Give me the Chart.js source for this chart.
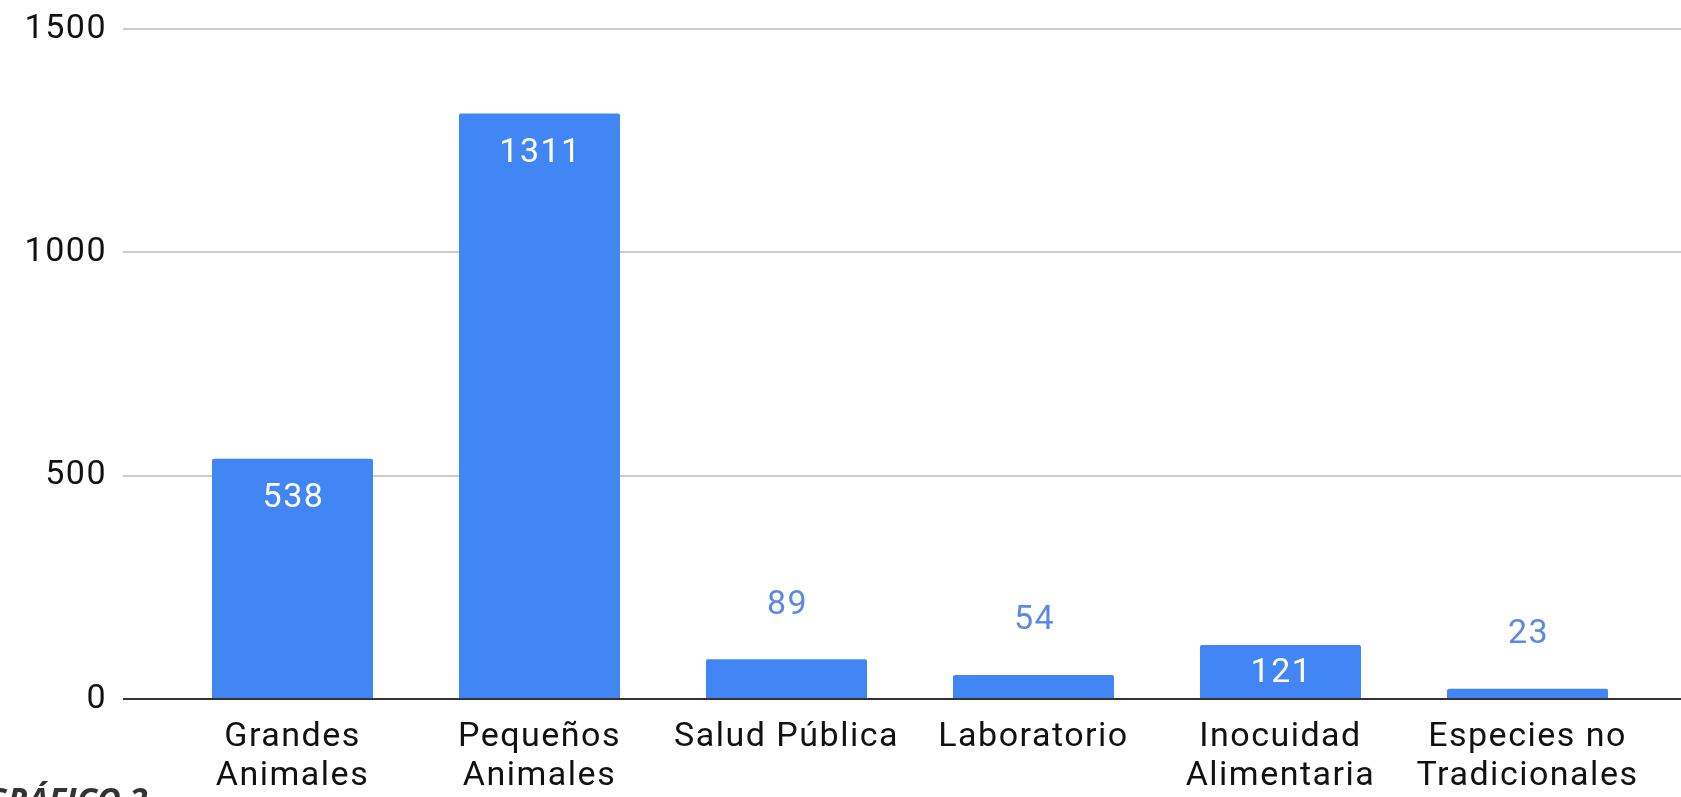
<!DOCTYPE html>
<html>
<head>
<meta charset="utf-8">
<title>Gráfico 2</title>
<script src="https://cdn.jsdelivr.net/npm/chart.js"></script>
<style>
    html, body { margin: 0; padding: 0; background: #fff; overflow: hidden; }
    .wrap { position: relative; width: 1681px; height: 797px; }
    .caption { position: absolute; left: -15px; top: 782px; font-family: "Open Sans", sans-serif; font-weight: 700; font-style: italic; font-size: 33px; line-height: 1; color: #333; white-space: nowrap; }
</style>
</head>
<body>
<div class="wrap">
    <canvas id="chart"></canvas>
    <div class="caption">GRÁFICO 2</div>
</div>
<script>
// data
const categories = [
    ['Grandes', 'Animales'],
    ['Pequeños', 'Animales'],
    'Salud Pública',
    'Laboratorio',
    ['Inocuidad', 'Alimentaria'],
    ['Especies no', 'Tradicionales']
];
const counts = [538, 1311, 89, 54, 121, 23];
const yTicks = [0, 500, 1000, 1500];

const BAR_BLUE = '#4285f4';
const FONT = { family: 'Roboto', size: 34 };

// gridlines run wider than the category band, so draw them from the y scale
const gridLines = {
    id: 'gridLines',
    beforeDraw(chart) {
        chart.ctx.letterSpacing = '1.5px';
    },
    beforeDatasetsDraw(chart) {
        const { ctx, chartArea, scales } = chart;
        ctx.save();
        ctx.strokeStyle = '#cccccc';
        ctx.lineWidth = 2;
        yTicks.filter(v => v > 0).forEach(v => {
            const y = Math.round(scales.y.getPixelForValue(v));
            ctx.beginPath();
            ctx.moveTo(chartArea.left - 46, y);
            ctx.lineTo(chart.width, y);
            ctx.stroke();
        });
        ctx.restore();
    },
    afterDatasetsDraw(chart) {
        const { ctx, chartArea, scales } = chart;
        const y0 = Math.round(scales.y.getPixelForValue(0));
        ctx.save();
        ctx.strokeStyle = '#333333';
        ctx.lineWidth = 2;
        ctx.beginPath();
        ctx.moveTo(chartArea.left - 46, y0);
        ctx.lineTo(chart.width, y0);
        ctx.stroke();
        ctx.restore();
    }
};

// value labels: inside the bar when it fits, above it otherwise
const valueLabels = {
    id: 'valueLabels',
    afterDatasetsDraw(chart) {
        const ctx = chart.ctx;
        const meta = chart.getDatasetMeta(0);
        ctx.save();
        ctx.font = FONT.size + 'px ' + FONT.family;
        ctx.letterSpacing = '1.5px';
        ctx.textAlign = 'center';
        ctx.textBaseline = 'middle';
        meta.data.forEach((bar, i) => {
            const h = bar.base - bar.y;
            let y;
            if (h > 45) {
                ctx.fillStyle = '#ffffff';
                y = Math.min(bar.y + 40, (bar.y + bar.base) / 2 + 2);
            } else {
                ctx.fillStyle = '#5a8ae6';
                y = bar.y - 54;
            }
            ctx.fillText(String(counts[i]), bar.x + 1, y);
        });
        ctx.restore();
    }
};

new Chart(document.getElementById('chart'), {
    type: 'bar',
    data: {
        labels: categories,
        datasets: [{
            data: counts,
            backgroundColor: BAR_BLUE,
            borderRadius: 2,
            borderSkipped: 'bottom',
            barPercentage: 0.652,
            categoryPercentage: 1
        }]
    },
    options: {
        responsive: true,
        maintainAspectRatio: false,
        animation: false,
        layout: { padding: { top: 29, right: 30, bottom: 0, left: 0 } },
        plugins: {
            legend: { display: false },
            tooltip: { enabled: false }
        },
        scales: {
            x: {
                grid: { display: false, drawTicks: false },
                border: { display: false },
                ticks: {
                    color: '#111',
                    font: { ...FONT, lineHeight: '39px' },
                    padding: 19,
                    maxRotation: 0,
                    autoSkip: false
                },
                afterFit(scale) { scale.height = 98; }
            },
            y: {
                min: 0,
                max: 1500,
                // tick marks are not drawn, their length only pushes the labels left
                grid: { display: false, drawTicks: true, tickLength: 60 },
                border: { display: false },
                ticks: {
                    stepSize: 500,
                    color: '#111',
                    font: FONT,
                    padding: 2,
                    callback: v => String(v)
                },
                afterFit(scale) { scale.width = 169; }
            }
        }
    },
    plugins: [gridLines, valueLabels]
});
</script>
</body>
</html>
